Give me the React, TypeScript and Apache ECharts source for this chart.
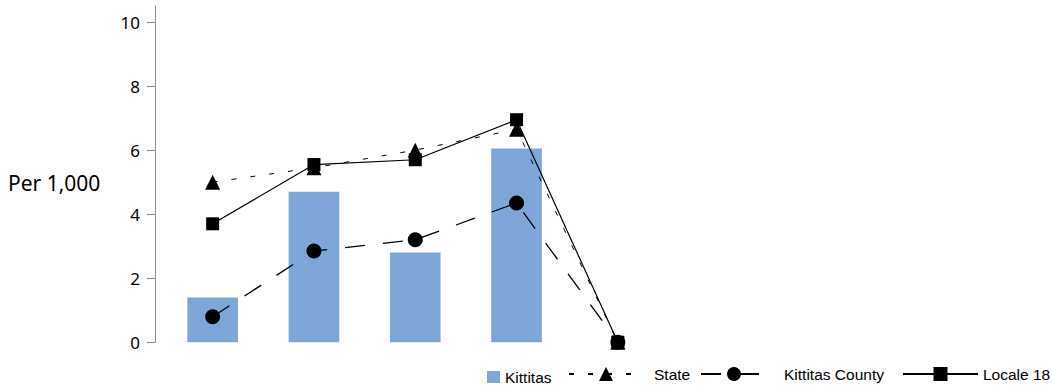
import React, { useEffect, useRef } from "react";
import * as echarts from "echarts";

const categories = ["1", "2", "3", "4", "5"];
const kittitasBars = [1.4, 4.7, 2.8, 6.05, 0];
const stateValues = [5.0, 5.45, 6.0, 6.65, 0];
const countyValues = [0.8, 2.85, 3.2, 4.35, 0];
const localeValues = [3.7, 5.55, 5.7, 6.95, 0];
const yTicks = [0, 2, 4, 6, 8, 10];

export default function App() {
  const ref = useRef<HTMLDivElement>(null);
  useEffect(() => {
    document.body.style.margin = "0";
    const chart = echarts.init(ref.current!, null, { renderer: "svg" });
    const legendText = { fontFamily: "Liberation Sans", fontSize: 15.5, color: "#000" };
    chart.setOption({
      animation: false,
      grid: { left: 162, right: 384.5, top: 6, bottom: 43.7, containLabel: false },
      xAxis: {
        type: "category",
        data: categories,
        axisLine: { show: false },
        axisTick: { show: false },
        axisLabel: { show: false },
        splitLine: { show: false },
      },
      yAxis: {
        type: "value",
        min: 0,
        max: 10.5,
        interval: 2,
        offset: 7,
        axisLine: { show: true, lineStyle: { color: "#8c8c8c", width: 1 } },
        axisTick: { show: true, length: 8, lineStyle: { color: "#8c8c8c" }, customValues: yTicks },
        axisLabel: {
          show: true,
          margin: 15,
          color: "#000",
          fontFamily: "Noto Sans",
          fontSize: 17,
          customValues: yTicks,
        },
        splitLine: { show: false },
      },
      graphic: [
        {
          type: "text",
          left: 8,
          top: 172,
          style: { text: "Per 1,000", fontFamily: "Noto Sans", fontSize: 21, fill: "#000" },
        },
      ],
      legend: [
        {
          data: [{ name: "Kittitas", icon: "rect" }],
          left: 487,
          top: 369,
          padding: 0,
          itemWidth: 13,
          itemHeight: 12,
          textStyle: legendText,
        },
        {
          data: ["State"],
          left: 568,
          top: 366,
          padding: 0,
          itemWidth: 74,
          itemHeight: 17.5,
          textStyle: { ...legendText, padding: [0, 0, 0, 6] },
        },
        {
          data: ["Kittitas County"],
          left: 700,
          top: 366,
          padding: 0,
          itemWidth: 66,
          itemHeight: 17.5,
          textStyle: { ...legendText, padding: [0, 0, 0, 12] },
        },
        {
          data: ["Locale 18"],
          left: 902,
          top: 366,
          padding: 0,
          itemWidth: 75,
          itemHeight: 17.5,
          textStyle: legendText,
        },
      ],
      series: [
        {
          name: "Kittitas",
          type: "bar",
          data: kittitasBars,
          barWidth: "50%",
          itemStyle: { color: "#7EA6D8" },
        },
        {
          name: "State",
          type: "line",
          data: stateValues,
          symbol: "triangle",
          symbolSize: 15,
          lineStyle: { color: "#000", width: 1, type: [5, 14] },
          itemStyle: { color: "#000" },
        },
        {
          name: "Kittitas County",
          type: "line",
          data: countyValues,
          symbol: "circle",
          symbolSize: 15,
          lineStyle: { color: "#000", width: 1.3, type: [20, 18] },
          itemStyle: { color: "#000" },
        },
        {
          name: "Locale 18",
          type: "line",
          data: localeValues,
          symbol: "rect",
          symbolSize: 13,
          lineStyle: { color: "#000", width: 1.2, type: "solid" },
          itemStyle: { color: "#000" },
        },
      ],
    });
    return () => chart.dispose();
  }, []);
  return <div ref={ref} style={{ width: 1053, height: 386 }} />;
}
